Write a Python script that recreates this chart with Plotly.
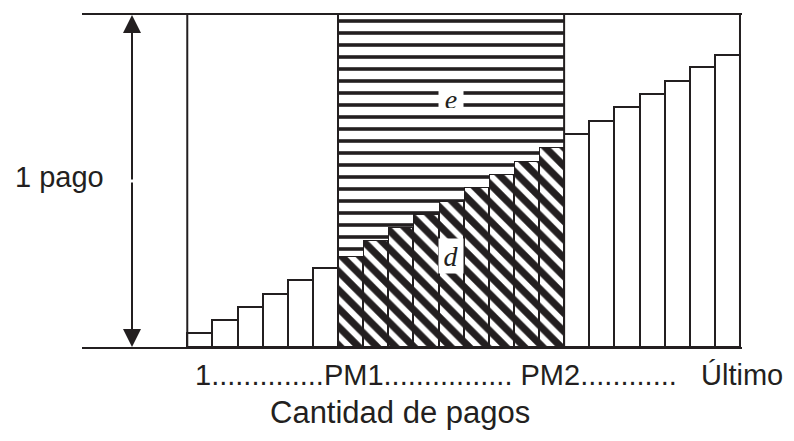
import plotly.graph_objects as go

# Parte de capital de cada pago (fracción de 1 pago)
principal = [0.041, 0.081, 0.119, 0.159, 0.201, 0.239,
             0.275, 0.322, 0.360, 0.402, 0.440, 0.482, 0.521, 0.560, 0.603,
             0.642, 0.682, 0.722, 0.761, 0.802, 0.842, 0.881]
pm1_idx = 6
pm2_idx = 14
tick_labels = ["1", "PM1", "PM2", "Último"]
tick_dots = [14, 16, 12]
tick_gaps = [0, 1, 3]
axis_title = "Cantidad de pagos"
level_label = "1 pago"
area_labels = ["e", "d"]

INK = "#231f20"
n = len(principal)
x = list(range(n))
in_range = [pm1_idx <= i <= pm2_idx for i in x]

# interés = 1 pago - capital, sólo entre PM1 y PM2
interest = [1 - p if r else 0 for p, r in zip(principal, in_range)]

# la página tiene 8px de margen en el body
PAD = 8
PLOT_L, PLOT_T, PLOT_W, PLOT_H = 82, 13, 660, 334


def px_to_paper_x(px):
    return (px - PLOT_L) / PLOT_W


def px_to_paper_y(py):
    return (PLOT_T + PLOT_H - py) / PLOT_H


fig = go.Figure()

# Capital (d)
fig.add_trace(go.Bar(
    x=x, y=principal, width=1,
    marker=dict(
        color="white",
        line=dict(color=INK, width=2),
        pattern=dict(shape=["\\" if r else "" for r in in_range],
                     fgcolor=INK, bgcolor="white", fgopacity=1,
                     size=13, solidity=0.55),
    ),
    hoverinfo="skip",
))

# Interés (e)
fig.add_trace(go.Bar(
    x=x, y=interest, width=1,
    marker=dict(
        color="white",
        line=dict(width=0),
        pattern=dict(shape="-", fgcolor=INK, bgcolor="white", fgopacity=1,
                     size=12, solidity=0.3),
    ),
    hoverinfo="skip",
))

# Bordes verticales: marco general y límites de PM1..PM2
for xv in [-0.5, n - 0.5, pm1_idx - 0.5, pm2_idx + 0.5]:
    fig.add_shape(type="line", xref="x", yref="y", x0=xv, x1=xv, y0=0, y1=1,
                  line=dict(color=INK, width=2))

# Flecha de 1 pago
arrow_x = -2.7
for yv in [1, 0]:
    fig.add_annotation(x=arrow_x, y=yv, ax=arrow_x, ay=0.5,
                       xref="x", yref="y", axref="x", ayref="y",
                       text="", showarrow=True, arrowhead=2, arrowsize=1.8,
                       arrowwidth=2, arrowcolor=INK, standoff=0)

sans = dict(family="Liberation Sans, Arial, sans-serif", size=29, color=INK)
serif = dict(family="Liberation Serif, Times New Roman, serif", size=28, color=INK)

fig.add_annotation(text=level_label, xref="paper", yref="paper",
                   x=px_to_paper_x(13), y=px_to_paper_y(175.5),
                   xanchor="left", yanchor="middle", showarrow=False, font=sans)

mid = (pm1_idx + pm2_idx) // 2
fig.add_annotation(text=f"<i>{area_labels[0]}</i>", x=mid, y=0.745,
                   showarrow=False, font=serif, bgcolor="white",
                   width=24, height=17, borderpad=0)
fig.add_annotation(text=f"<i>{area_labels[1]}</i>", x=mid, y=0.275,
                   showarrow=False, font=serif, bgcolor="white",
                   width=24, height=34, borderpad=0)

tick_text = tick_labels[0]
for dots, gap, lab in zip(tick_dots, tick_gaps, tick_labels[1:]):
    tick_text += "." * dots + "\u00a0" * gap + lab
fig.add_annotation(text=tick_text, xref="paper", yref="paper",
                   x=px_to_paper_x(193), y=px_to_paper_y(375.5),
                   xanchor="left", yanchor="middle", showarrow=False, font=sans)

fig.add_annotation(text=axis_title, xref="paper", yref="paper",
                   x=px_to_paper_x(400), y=px_to_paper_y(413),
                   xanchor="center", yanchor="middle", showarrow=False,
                   font=dict(sans, size=31))

fig.update_layout(
    width=794 - PAD, height=441 - PAD,
    margin=dict(l=PLOT_L - PAD, r=794 - PLOT_L - PLOT_W,
                t=PLOT_T - PAD, b=441 - PLOT_T - PLOT_H),
    barmode="stack", bargap=0,
    showlegend=False,
    plot_bgcolor="white", paper_bgcolor="white",
    xaxis=dict(range=[-4.69, 21.58], showgrid=False, zeroline=False,
               showticklabels=False, ticks="",
               showline=True, mirror=True, linecolor=INK, linewidth=2),
    yaxis=dict(range=[0, 1], showgrid=False, zeroline=False,
               showticklabels=False, ticks="", showline=False),
)

fig.write_html("out.html")
